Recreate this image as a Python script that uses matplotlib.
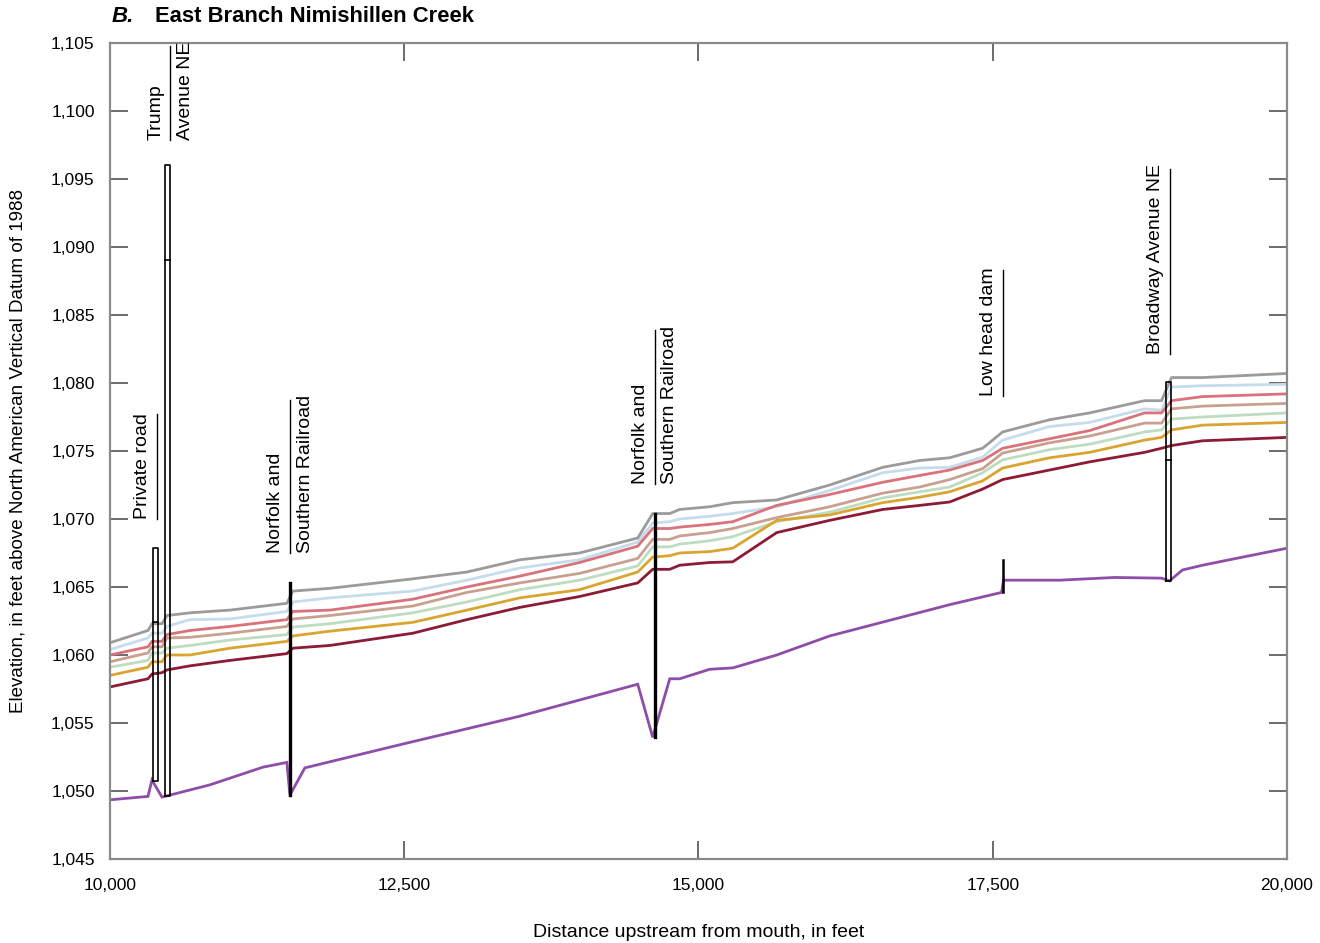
"""Water-surface profiles along East Branch Nimishillen Creek (panel B)."""

import matplotlib

matplotlib.use("Agg")
import matplotlib.pyplot as plt
from matplotlib.ticker import FuncFormatter, MultipleLocator

plt.rcParams["font.family"] = ["Liberation Sans Narrow", "Liberation Sans", "DejaVu Sans"]

# stations shared by the six water-surface profiles, feet upstream from mouth
STATION = [10000, 10323, 10357, 10442, 10484, 10679, 11019, 11503, 11554, 11868,
           12573, 13032, 13482, 13990, 14484, 14611, 14756, 14840, 15096, 15291,
           15665, 16115, 16565, 16879, 17134, 17414, 17584, 17983, 18323, 18790,
           18934, 19019, 19282, 20000]

WS_GREY = [1060.9, 1061.8, 1062.3, 1062.3, 1062.9, 1063.1, 1063.3, 1063.8, 1064.7, 1064.9,
           1065.6, 1066.1, 1067.0, 1067.5, 1068.6, 1070.4, 1070.4, 1070.7, 1070.9, 1071.2,
           1071.4, 1072.5, 1073.8, 1074.3, 1074.5, 1075.2, 1076.4, 1077.3, 1077.8, 1078.7,
           1078.7, 1080.4, 1080.4, 1080.7]
WS_BLUE = [1060.4, 1061.25, 1061.6, 1061.6, 1062.1, 1062.6, 1062.65, 1063.2, 1063.9, 1064.2,
           1064.7, 1065.5, 1066.4, 1067.0, 1068.3, 1069.7, 1069.8, 1070.0, 1070.2, 1070.4,
           1070.9, 1072.1, 1073.4, 1073.75, 1073.8, 1074.55, 1075.8, 1076.8, 1077.1, 1078.1,
           1078.0, 1079.7, 1079.8, 1079.9]
WS_RED = [1060.0, 1060.6, 1061.0, 1061.0, 1061.5, 1061.8, 1062.1, 1062.6, 1063.2, 1063.3,
          1064.1, 1065.0, 1065.8, 1066.8, 1068.0, 1069.3, 1069.3, 1069.4, 1069.6, 1069.8,
          1071.0, 1071.8, 1072.7, 1073.2, 1073.6, 1074.3, 1075.2, 1075.9, 1076.5, 1077.8,
          1077.8, 1078.7, 1079.0, 1079.2]
WS_TAN = [1059.5, 1060.15, 1060.6, 1060.6, 1061.25, 1061.3, 1061.6, 1062.1, 1062.65, 1062.9,
          1063.6, 1064.6, 1065.3, 1066.0, 1067.1, 1068.5, 1068.5, 1068.75, 1069.0, 1069.3,
          1070.1, 1070.9, 1071.9, 1072.35, 1072.9, 1073.7, 1074.85, 1075.6, 1076.1, 1077.05,
          1077.05, 1078.1, 1078.3, 1078.5]
WS_GREEN = [1059.1, 1059.6, 1060.15, 1060.15, 1060.5, 1060.7, 1061.1, 1061.5, 1062.05, 1062.3,
            1063.1, 1063.9, 1064.8, 1065.5, 1066.55, 1067.95, 1067.95, 1068.15, 1068.4, 1068.7,
            1069.8, 1070.5, 1071.55, 1072.0, 1072.35, 1073.4, 1074.35, 1075.1, 1075.5, 1076.4,
            1076.55, 1077.35, 1077.5, 1077.8]
WS_GOLD = [1058.5, 1059.1, 1059.5, 1059.5, 1060.0, 1060.0, 1060.5, 1061.0, 1061.4, 1061.75,
           1062.4, 1063.3, 1064.2, 1064.8, 1066.1, 1067.2, 1067.3, 1067.5, 1067.6, 1067.85,
           1069.9, 1070.3, 1071.2, 1071.6, 1072.0, 1072.8, 1073.75, 1074.5, 1074.9, 1075.8,
           1076.0, 1076.55, 1076.9, 1077.1]
WS_MAROON = [1057.65, 1058.25, 1058.6, 1058.7, 1058.9, 1059.2, 1059.6, 1060.1, 1060.5, 1060.7,
             1061.6, 1062.6, 1063.5, 1064.3, 1065.3, 1066.3, 1066.3, 1066.6, 1066.8, 1066.85,
             1069.0, 1069.9, 1070.7, 1071.0, 1071.25, 1072.2, 1072.9, 1073.6, 1074.2, 1074.9,
             1075.2, 1075.4, 1075.75, 1076.0]

# channel bottom
BED_X = [10000, 10323, 10357, 10442, 10510, 10849, 11299, 11503, 11529, 11656, 12463,
         13482, 14484, 14611, 14756, 14840, 15096, 15291, 15665, 16115, 17134, 17575,
         17592, 18068, 18535, 18934, 19002, 19112, 19282, 19510, 20000]
BED_Z = [1049.35, 1049.6, 1050.8, 1049.55, 1049.7, 1050.45, 1051.75, 1052.1, 1049.7, 1051.7,
         1053.4, 1055.5, 1057.85, 1053.95, 1058.25, 1058.25, 1058.95, 1059.05, 1060.0, 1061.4,
         1063.7, 1064.6, 1065.5, 1065.5, 1065.7, 1065.65, 1065.45, 1066.25, 1066.6, 1067.0,
         1067.85]

# bridges: left and right station, bottom, low chord, top of road
BRIDGE_X0 = [10364, 10467, 18968]
BRIDGE_X1 = [10411, 10512, 19016]
BRIDGE_BOT = [1050.75, 1049.65, 1065.45]
BRIDGE_LOW = [1062.4, 1089.05, 1074.35]
BRIDGE_TOP = [1067.9, 1096.0, 1080.1]

# railroad embankments and the dam, drawn as vertical bars
BAR_X = [11529, 14628, 17588]
BAR_BOT = [1049.7, 1053.95, 1064.6]
BAR_TOP = [1065.3, 1070.4, 1067.0]
BAR_LW = [2.4, 2.4, 1.8]

# structure labels: left text, right text, leader x, leader bottom, leader top
LABELS = [
    ("Private road", None, 10399, 1070.0, 1077.7),
    ("Trump", "Avenue NE", 10510, 1097.9, 1104.8),
    ("Norfolk and", "Southern Railroad", 11529, 1067.5, 1078.75),
    ("Norfolk and", "Southern Railroad", 14628, 1072.6, 1083.9),
    ("Low head dam", None, 17584, 1079.05, 1088.3),
    ("Broadway Avenue NE", None, 19002, 1082.1, 1095.7),
]

profiles = [
    (WS_BLUE, "#c5dcec"),
    (WS_GREEN, "#bedcbf"),
    (WS_TAN, "#c9a08f"),
    (WS_GOLD, "#d9a530"),
    (WS_RED, "#d9727a"),
    (WS_MAROON, "#8c1b35"),
    (WS_GREY, "#9b9b9d"),
]

fig = plt.figure(figsize=(13.2, 9.43), dpi=100)
ax = fig.add_axes([0.0833, 0.0891, 0.8917, 0.8653])

ax.plot(BED_X, BED_Z, color="#8e4ea8", lw=2.0, solid_joinstyle="miter")
for z, c in profiles:
    ax.plot(STATION, z, color=c, lw=2.0)

for x0, x1, b, lo, t in zip(BRIDGE_X0, BRIDGE_X1, BRIDGE_BOT, BRIDGE_LOW, BRIDGE_TOP):
    ax.plot([x0, x1, x1, x0, x0], [b, b, t, t, b], color="black", lw=1.2)
    ax.plot([x0, x1], [lo, lo], color="black", lw=1.2)

for x, b, t, w in zip(BAR_X, BAR_BOT, BAR_TOP, BAR_LW):
    ax.plot([x, x], [b, t], color="black", lw=w)

for left, right, x, y0, y1 in LABELS:
    ax.plot([x, x], [y0, y1], color="black", lw=1.0)
    ax.text(x - 120, y0, left, rotation=90, ha="center", va="bottom", fontsize=14)
    if right:
        ax.text(x + 130, y0, right, rotation=90, ha="center", va="bottom", fontsize=14)

ax.set_xlim(10000, 20000)
ax.set_ylim(1045, 1105)
ax.xaxis.set_major_locator(MultipleLocator(2500))
ax.yaxis.set_major_locator(MultipleLocator(5))
comma = FuncFormatter(lambda v, _: f"{v:,.0f}")
ax.xaxis.set_major_formatter(comma)
ax.yaxis.set_major_formatter(comma)
ax.tick_params(direction="in", length=13, width=1.1, color="#444444",
               labelsize=12.5, right=True, top=True, pad=11)
ax.tick_params(axis="x", pad=14)
for s in ax.spines.values():
    s.set_color("#8a8a8a")
    s.set_linewidth(1.6)

ax.set_xlabel("Distance upstream from mouth, in feet", fontsize=14)
ax.set_ylabel("Elevation, in feet above North American Vertical Datum of 1988", fontsize=13.5)
ax.xaxis.set_label_coords(0.5, -0.08)
ax.yaxis.set_label_coords(-0.071, 0.5)

fig.text(112 / 1320, 1 - 17 / 943, "B.", fontsize=16, fontweight="bold",
         fontstyle="italic", va="center")
fig.text(155 / 1320, 1 - 17 / 943, "East Branch Nimishillen Creek", fontsize=15.8,
         fontweight="bold", va="center")

fig.savefig("out.png", dpi=100)
